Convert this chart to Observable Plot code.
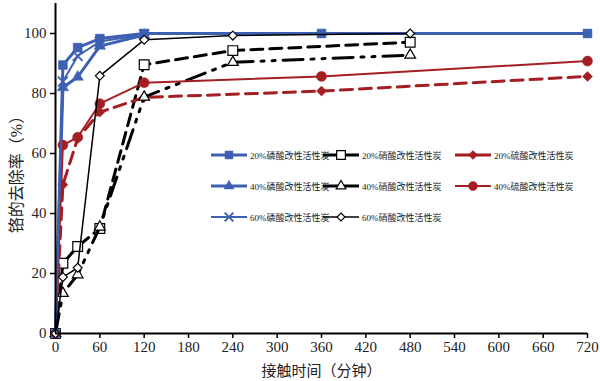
<!DOCTYPE html>
<html>
<head>
<meta charset="utf-8">
<script src="https://cdn.jsdelivr.net/npm/d3@7"></script>
<script src="https://cdn.jsdelivr.net/npm/@observablehq/plot@0.6"></script>
<style>
  html, body { margin: 0; padding: 0; background: #fff; }
  #wrap { position: relative; width: 600px; height: 381px; }
  #legend { position: absolute; left: 211px; top: 148px; font-family: 'Liberation Serif', 'Noto Sans CJK SC', serif; font-size: 9px; color: #222; }
  .item { position: absolute; display: flex; align-items: center; white-space: nowrap; }
  .item svg { display: block; margin-right: 3px; }
</style>
</head>
<body>
<div id="wrap"><div id="legend"></div></div>
<script>
// ---- data ----
const xTicks = [0, 60, 120, 180, 240, 300, 360, 420, 480, 540, 600, 660, 720];
const yTicks = [0, 20, 40, 60, 80, 100];

const tPhos20 = [0, 10, 30, 60, 120, 360, 720];  // 20%磷酸 times (min)
const tPhos   = [0, 10, 30, 60, 120];            // 40%/60%磷酸 times (min)
const tNit    = [0, 10, 30, 60, 120, 240, 480];  // 硝酸 times (min)
const tSulf   = [0, 10, 30, 60, 120, 360, 720];  // 硫酸 times (min)

const phos20 = [0, 89.5, 95.3, 98.3, 100, 100, 100];
const phos40 = [0, 82.0, 85.5, 95.8, 99.5];
const phos60 = [0, 84.0, 92.5, 97.3, 99.7];

const nit20 = [0, 23.4, 29.0, 35.0, 89.6, 94.3, 97.1];
const nit40 = [0, 13.4, 19.6, 35.5, 78.8, 90.4, 92.8];
const nit60 = [0, 18.8, 21.9, 85.9, 97.9, 99.3, 100];

const sulf20 = [0, 49.6, 65.0, 73.8, 78.7, 80.8, 85.7];
const sulf40 = [0, 62.8, 65.4, 76.6, 83.6, 85.7, 90.8];

const names = ["20%磷酸改性活性炭", "20%硝酸改性活性炭", "20%硫酸改性活性炭",
               "40%磷酸改性活性炭", "40%硝酸改性活性炭", "40%硫酸改性活性炭",
               "60%磷酸改性活性炭", "60%硝酸改性活性炭"];
const xLabel = "接触时间（分钟）";
const yLabel = "铬的去除率（%）";

// ---- styles ----
const BLUE = "#3d60b3", RED = "#a31f22", BLACK = "#000";
const series = [
  {name: names[0], t: tPhos20, v: phos20, stroke: BLUE,  sw: 3,   dash: null,           symbol: "square",   fill: BLUE,  r: 5},
  {name: names[1], t: tNit,    v: nit20,  stroke: BLACK, sw: 3,   dash: "12,7",         symbol: "square",   fill: "#fff", r: 5.5},
  {name: names[2], t: tSulf,   v: sulf20, stroke: RED,   sw: 3,   dash: "12,7",         symbol: "diamond2", fill: RED,   r: 4.5},
  {name: names[3], t: tPhos,   v: phos40, stroke: BLUE,  sw: 3,   dash: null,           symbol: "triangle", fill: BLUE,  r: 4.2},
  {name: names[4], t: tNit,    v: nit40,  stroke: BLACK, sw: 3,   dash: "20,8,3,8,3,8", symbol: "triangle", fill: "#fff", r: 4},
  {name: names[5], t: tSulf,   v: sulf40, stroke: RED,   sw: 2,   dash: null,           symbol: "circle",   fill: RED,   r: 5},
  {name: names[6], t: tPhos,   v: phos60, stroke: BLUE,  sw: 2,   dash: null,           symbol: "times",    fill: BLUE,  r: 4.5},
  {name: names[7], t: tNit,    v: nit60,  stroke: BLACK, sw: 1.5, dash: null,           symbol: "diamond2", fill: "#fff", r: 4}
];

const marks = [];
series.forEach(s => {
  const rows = s.t.map((t, i) => ({t, v: s.v[i]}));
  marks.push(Plot.line(rows, {x: "t", y: "v", stroke: s.stroke, strokeWidth: s.sw, strokeDasharray: s.dash || undefined}));
  const filled = s.fill !== "#fff";
  const isTimes = s.symbol === "times";
  marks.push(Plot.dot(rows, {x: "t", y: "v", symbol: () => s.symbol, r: s.r,
    fill: isTimes ? "none" : s.fill,
    stroke: isTimes ? s.stroke : (filled ? s.fill : BLACK),
    strokeWidth: isTimes ? 2 : (filled ? 0.5 : 1.2)}));
});

const chart = Plot.plot({
  width: 600, height: 381,
  marginLeft: 55, marginRight: 13, marginTop: 3, marginBottom: 48,
  style: {fontFamily: "'Liberation Serif', 'Noto Sans CJK SC', serif", fontSize: "15px", color: "#222", background: "#fff"},
  x: {domain: [0, 720]},
  y: {domain: [0, 110]},
  marks: [
    Plot.axisX({ticks: xTicks, tickSize: 5, tickPadding: 3, stroke: BLACK, strokeWidth: 1.5,
      label: xLabel, labelAnchor: "center", labelArrow: "none", labelOffset: 42}),
    Plot.axisY({ticks: yTicks, tickSize: 5, tickPadding: 4, stroke: BLACK, strokeWidth: 1.5, label: null}),
    Plot.text([yLabel], {text: d => d, frameAnchor: "left", textAnchor: "middle", lineAnchor: "middle",
      rotate: -90, dx: -39, dy: 2, fontSize: 16, fill: "#222"}),
    ...marks,
    Plot.ruleY([0], {stroke: BLACK, strokeWidth: 2}),
    Plot.ruleX([0], {stroke: BLACK, strokeWidth: 2})
  ]
});
document.getElementById("wrap").prepend(chart);

// ---- legend ----
const symMap = {square: d3.symbolSquare, triangle: d3.symbolTriangle, diamond2: d3.symbolDiamond2, circle: d3.symbolCircle, times: d3.symbolTimes};
const colX = [0, 112, 244], rowY = [0, 31, 62];
const legend = document.getElementById("legend");
series.forEach((s, i) => {
  const col = i % 3, row = Math.floor(i / 3);
  const item = document.createElement("div");
  item.className = "item";
  item.style.left = colX[col] + "px";
  item.style.top = rowY[row] + "px";
  const W = 36, H = 14;
  const path = d3.symbol(symMap[s.symbol], Math.PI * s.r * s.r * 0.8)();
  const filled = s.fill !== "#fff";
  const isTimes = s.symbol === "times";
  item.innerHTML = `<svg width="${W}" height="${H}">
    <line x1="0" x2="${W}" y1="${H/2}" y2="${H/2}" stroke="${s.stroke}" stroke-width="${s.sw}"/>
    <path transform="translate(${W/2},${H/2})" d="${path}" fill="${isTimes ? "none" : s.fill}" stroke="${isTimes ? s.stroke : (filled ? s.fill : BLACK)}" stroke-width="${isTimes ? 2 : (filled ? 0.5 : 1.2)}"/>
  </svg><span>${s.name}</span>`;
  legend.appendChild(item);
});
</script>
</body>
</html>
